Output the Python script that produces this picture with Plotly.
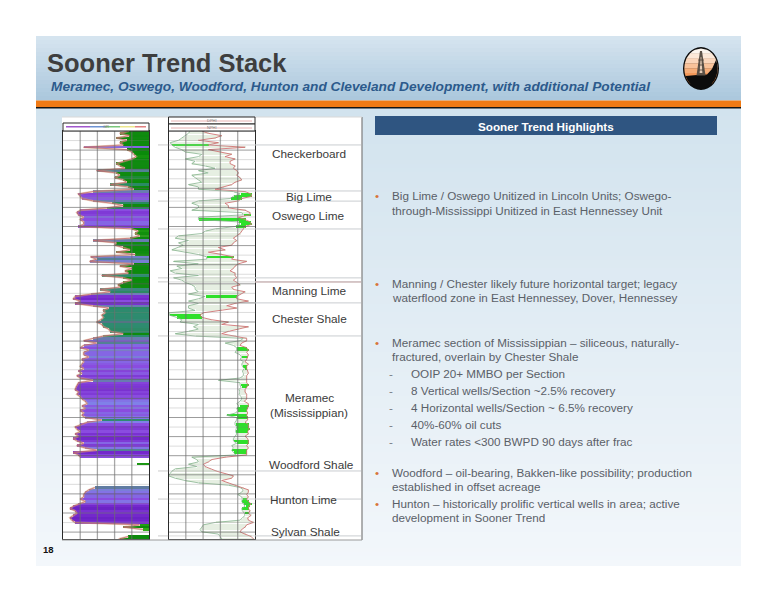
import math
import numpy as np
import plotly.graph_objects as go

W, H = 776, 600

# ---------- data ----------
SAMPLE_STEP_FT = 12.2
GRID_MAJOR_FT = list(range(0, 2200, 100))
GRID_MINOR_FT = list(range(50, 2150, 100))
GR_GRID = [20, 40, 60, 80]
RES_GRID = [62, 114, 166, 218]

GR = [77,66,77,62,74,66,70,24,74,80,82,85,80,70,62,66,72,39,62,66,60,70,74,55,76,82,35,18,20,22,35,57,70,51,20,16,18,24,20,24,24,18,80,87,84,89,78,35,62,60,70,78,62,84,32,39,
      31,82,66,80,72,76,45,70,80,70,64,66,43,55,33,14,12,20,14,35,53,47,49,45,47,44,39,45,47,53,55,70,47,35,24,39,24,20,30,24,24,30,22,24,22,20,24,18,22,16,20,35,18,16,15,14,18,16,20,22,
      26,28,22,26,20,24,22,26,45,28,20,14,16,20,14,18,12,16,24,16,26,39,12,18,20,100,100,86,100,100,100,100,100,100,100,100,100,37,30,26,24,24,20,26,18,12,8,14,16,12,8,10,14,89,70,93,100,100,76,66,62,58]

RES = [110,130,170,150,100,160,130,240,130,170,200,180,210,195,195,210,205,215,220,215,225,230,210,200,175,150,240,258,260,230,220,180,190,190,240,255,255,220,240,255,260,240,235,230,225,215,205,215,205,200,160,180,130,170,205,200,
       245,220,210,205,195,210,210,215,205,215,225,200,205,240,225,215,215,250,210,185,215,170,115,105,110,140,190,170,250,220,190,170,210,245,245,230,225,245,250,245,250,248,245,240,250,245,245,248,250,245,245,245,245,250,245,240,240,245,245,245,
       238,250,250,248,245,248,245,248,248,240,250,250,252,248,250,240,248,250,250,245,250,245,245,245,180,140,130,115,120,135,155,180,205,200,170,190,210,235,250,250,245,250,245,250,258,252,250,255,250,258,248,250,265,245,240,230,225,240,258,265,265]
NEU = [75,70,60,50,40,15,20,30,50,60,110,100,60,90,80,120,150,100,130,80,90,100,110,70,100,100,205,225,205,195,100,80,100,100,80,230,235,100,100,220,225,210,150,120,110,40,30,70,40,55,40,20,60,100,125,125,
       25,100,35,50,15,30,100,25,50,60,80,90,90,100,70,120,100,70,100,70,70,90,12,12,35,50,45,100,85,100,70,30,90,235,225,180,205,215,215,210,225,230,225,235,230,232,238,232,235,235,225,160,225,225,228,222,225,222,228,230,
       225,215,222,215,218,212,185,215,215,210,210,215,213,212,215,210,205,205,215,200,205,200,205,212,80,95,100,70,95,30,20,15,10,30,60,100,190,225,235,230,218,230,232,230,235,240,230,232,238,240,232,225,150,115,110,105,110,160,165,170,175]
PAY_TOPS_FT = [63,319,430,452,471,649,864,953,1131,1173,1225,1320,1435,1482,1529,1618,1670,1916,1995]
PAY_BASES_FT = [84,361,442,464,503,670,874,979,1157,1189,1251,1346,1471,1503,1581,1644,1686,1984,2011]

FORMATION_TOPS_FT = [73, 314, 367, 513, 769, 790, 900, 1073, 1780, 1927, 2120]
FORMATION_NAMES = ["Checkerboard", "Big Lime", "Oswego Lime", "Manning Lime", "Chester Shale",
                   "Meramec", "(Mississippian)", "Woodford Shale", "Hunton Lime", "Sylvan Shale"]
BULLETS = ["Big Lime / Oswego Unitized in Lincoln Units; Oswego-", "through-Mississippi Unitized in East Hennessey Unit",
           "Manning / Chester likely future horizontal target; legacy", "waterflood zone in East Hennessey, Dover, Hennessey",
           "Meramec section of Mississippian \u2013 siliceous, naturally-", "fractured, overlain by Chester Shale",
           "Woodford \u2013 oil-bearing, Bakken-like possibility; production", "established in offset acreage",
           "Hunton \u2013 historically prolific vertical wells in area; active", "development in Sooner Trend"]
SUB_BULLETS = ["OOIP 20+ MMBO per Section", "8 Vertical wells/Section ~2.5% recovery",
               "4 Horizontal wells/Section ~ 6.5% recovery", "40%-60% oil cuts", "Water rates <300 BWPD 90 days after frac"]

# ---------- layout helpers ----------
TR1 = (63, 149); TR2 = (168.5, 255); TOP, BOT = 131, 539
PX_PER_FT = 19.1 / 100
DEPTH_MAX = (BOT - TOP) / PX_PER_FT
def dom_x(a): return [a[0] / W, a[1] / W]
DOM_Y = [1 - BOT / H, 1 - TOP / H]
def py(ft): return TOP + ft * PX_PER_FT

fig = go.Figure()
AX0 = dict(xaxis="x", yaxis="y")

# slide background gradient
rows = np.arange(36, 567, 4)
def bg(y):
    if y < 100:
        t = (y - 36) / 64
        return [213 - 44 * t, 228 - 30 * t, 239 - 19 * t]
    t = (y - 108) / 458
    return [210 + 33 * t, 227 + 20 * t, 238 + 13 * t]
for y in rows:
    r, g, b = bg(y)
    fig.add_trace(go.Scatter(x=[36, 741, 741, 36, 36], y=[y, y, min(y + 4.5, 566), min(y + 4.5, 566), y], fill="toself", mode="none",
                             fillcolor=f"rgb({r:.0f},{g:.0f},{b:.0f})", hoverinfo="skip", **AX0))
# white log panel
fig.add_trace(go.Scatter(x=[62, 362, 362, 62, 62], y=[117, 117, 540, 540, 117], fill="toself", mode="none",
                         fillcolor="white", hoverinfo="skip", **AX0))

depth = np.arange(len(GR)) * SAMPLE_STEP_FT
GR_SCALE = [[0, "#5a18b8"], [0.12, "#7428cc"], [0.2, "#8a4ce0"], [0.28, "#8080e8"], [0.36, "#667aa8"],
            [0.45, "#2e8b70"], [0.58, "#2a8a60"], [0.62, "#108a10"], [0.82, "#0a8a0a"], [1, "#48c020"]]
fig.add_trace(go.Bar(y=depth, x=[100 - v for v in GR], base=GR, orientation="h", width=SAMPLE_STEP_FT,
                     marker=dict(color=GR, colorscale=GR_SCALE, cmin=0, cmax=100, line_width=0),
                     xaxis="x2", yaxis="y2", hoverinfo="skip"))
gr_plot = [v if v < 100 else None for v in GR]
fig.add_trace(go.Scatter(x=gr_plot, y=depth, mode="lines", line=dict(color="rgba(214,170,130,0.55)", width=2),
                         xaxis="x2", yaxis="y2", hoverinfo="skip"))
fig.add_trace(go.Scatter(x=gr_plot, y=depth, mode="lines", line=dict(color="#c0606a", width=0.7),
                         xaxis="x2", yaxis="y2", hoverinfo="skip"))

n2 = min(len(RES), len(NEU))
d2 = np.arange(n2) * SAMPLE_STEP_FT
is_pay = [any(t <= d <= b for t, b in zip(PAY_TOPS_FT, PAY_BASES_FT)) for d in d2]
lo = [min(a, b) for a, b in zip(RES, NEU)]
wd = [abs(a - b) for a, b in zip(RES, NEU)]
pale = [i for i in range(n2) if not is_pay[i]]
gold = [i for i in range(n2) if is_pay[i]]
fig.add_trace(go.Bar(y=d2[pale], x=[wd[i] for i in pale], base=[lo[i] for i in pale], orientation="h",
                     width=SAMPLE_STEP_FT * 0.45, marker=dict(color="#e6efe2", line_width=0),
                     xaxis="x3", yaxis="y3", hoverinfo="skip"))
fig.add_trace(go.Scatter(x=NEU, y=d2, mode="lines", line=dict(color="#86b48e", width=0.8),
                         xaxis="x3", yaxis="y3", hoverinfo="skip"))
fig.add_trace(go.Scatter(x=RES, y=d2, mode="lines", line=dict(color="#cf7474", width=0.9),
                         xaxis="x3", yaxis="y3", hoverinfo="skip"))
fig.add_trace(go.Bar(y=d2[gold], x=[wd[i] for i in gold], base=[lo[i] for i in gold], orientation="h",
                     width=SAMPLE_STEP_FT, marker=dict(color="#2ee02a", line_width=0),
                     xaxis="x3", yaxis="y3", hoverinfo="skip"))

# grid drawn over the fills
def hgrid(levels, xr, color, width, ax):
    xs, ys = [], []
    for d in levels:
        xs += [xr[0], xr[1], None]; ys += [d, d, None]
    fig.add_trace(go.Scatter(x=xs, y=ys, mode="lines", line=dict(color=color, width=width),
                             xaxis=ax[0], yaxis=ax[1], hoverinfo="skip"))
def vgrid(levels, color, width, ax):
    xs, ys = [], []
    for v in levels:
        xs += [v, v, None]; ys += [0, DEPTH_MAX, None]
    fig.add_trace(go.Scatter(x=xs, y=ys, mode="lines", line=dict(color=color, width=width),
                             xaxis=ax[0], yaxis=ax[1], hoverinfo="skip"))
for ax, xr, vl in [(("x2", "y2"), (0, 100), GR_GRID), (("x3", "y3"), (10, 270), RES_GRID)]:
    hgrid(GRID_MINOR_FT, xr, "rgba(130,130,130,0.28)", 1, ax)
    hgrid(GRID_MAJOR_FT, xr, "rgba(90,90,90,0.6)", 1, ax)
    vgrid(vl, "rgba(110,110,110,0.6)", 1.3, ax)

axis_off = dict(showgrid=False, zeroline=False, showticklabels=False, ticks="", showline=False)
frame = dict(showgrid=False, zeroline=False, showticklabels=False, ticks="", showline=True, mirror=True,
             linecolor="#2a2a2a", linewidth=1.4)
fig.update_layout(
    width=W, height=H, margin=dict(l=0, r=0, t=0, b=0), paper_bgcolor="white", plot_bgcolor="rgba(0,0,0,0)",
    showlegend=False, barmode="overlay", bargap=0,
    xaxis=dict(domain=[0, 1], range=[0, W], **axis_off),
    yaxis=dict(domain=[0, 1], range=[H, 0], **axis_off),
    xaxis2=dict(domain=dom_x(TR1), range=[0, 100], anchor="y2", **frame),
    yaxis2=dict(domain=DOM_Y, range=[DEPTH_MAX, 0], anchor="x2", **frame),
    xaxis3=dict(domain=dom_x(TR2), range=[10, 270], anchor="y3", **frame),
    yaxis3=dict(domain=DOM_Y, range=[DEPTH_MAX, 0], anchor="x3", **frame),
)

shapes = []
def rect(x0, y0, x1, y1, fill, line=None, lw=0):
    shapes.append(dict(type="rect", xref="x", yref="y", x0=x0, y0=y0, x1=x1, y1=y1, fillcolor=fill,
                       line=dict(color=line or fill, width=lw), layer="above"))
def seg(x0, y0, x1, y1, color, width=1):
    shapes.append(dict(type="line", xref="x", yref="y", x0=x0, y0=y0, x1=x1, y1=y1,
                       line=dict(color=color, width=width), layer="above"))

rect(36, 100.5, 741, 107, "#f07a14")
rect(36, 107, 741, 108.6, "#141414")
rect(375, 116, 717, 135, "#2f5581")
# panel edges
seg(362, 117, 362, 540, "#7c7c7c", 1.2)
seg(62, 540, 362, 540, "#9a9a9a", 1)
seg(62, 117, 362, 117, "#d8d8d8", 1)
# formation tops
for ft in FORMATION_TOPS_FT:
    seg(158, py(ft), 168, py(ft), "rgba(170,170,170,0.6)", 1)
    seg(168.5, py(ft), 255, py(ft), "rgba(175,175,175,0.35)", 1.4)
    seg(255, py(ft), 361, py(ft), "#c9cdd0", 1)
seg(255, 282, 361, 282, "#c9a9a9", 1)
# track headers
for x0, x1, y0, y1 in [(63, 149, 123, 131), (168.5, 255, 117, 124), (168.5, 255, 124, 131)]:
    rect(x0, y0, x1, y1, "white", "#2a2a2a", 1)
for (a, b, c) in [(66, 90, "#8a2ec0"), (90, 105, "#4a78c8"), (105, 120, "#58b858"), (120, 135, "#e8e070"), (135, 146, "#d86060")]:
    seg(a, 126.8, b, 126.8, c, 1.2)
seg(171, 121, 252, 121, "#e8b0b0", 1)
seg(171, 128, 252, 128, "#e8b0b0", 1)

# logo
cx, cy, rx, ry = 701, 68.5, 18, 21.5
irx, iry = rx - 1.4, ry - 1.4
def ell_x(y):
    return irx * math.sqrt(max(0.0, 1 - ((y - cy) / iry) ** 2))
shapes.append(dict(type="circle", xref="x", yref="y", x0=cx - rx, x1=cx + rx, y0=cy - ry, y1=cy + ry,
                   fillcolor="#0c0c0c", line=dict(width=0), layer="above"))
BANDS = ["#fbf5ee", "#fbe8d8", "#fad6bb", "#f8c29a", "#f6ad78", "#f4995a", "#f18a44"]
span = iry * 2 * 0.86
for i, col in enumerate(BANDS):
    ya = cy - iry + i * span / len(BANDS)
    yb = ya + span / len(BANDS) + 0.4
    pts = [(cx - ell_x(y), y) for y in np.linspace(ya, yb, 5)] + [(cx + ell_x(y), y) for y in np.linspace(yb, ya, 5)]
    shapes.append(dict(type="path", xref="x", yref="y", layer="above", fillcolor=col, line=dict(width=0),
                       path="M" + " L".join(f"{a:.1f},{b:.1f}" for a, b in pts) + " Z"))
# black hill, clipped to the ellipse outline
hill = [(cx - ell_x(76), 76), (697, 75), (707, 74.5), (712, 69), (cx + ell_x(60), 60)]
hill += [(cx + ell_x(y), y) for y in np.linspace(60, 88, 8)] + [(cx - ell_x(y), y) for y in np.linspace(88, 76, 6)]
shapes.append(dict(type="path", xref="x", yref="y", layer="above", fillcolor="#0c0c0c", line=dict(width=0),
                   path="M" + " L".join(f"{a:.1f},{b:.1f}" for a, b in hill) + " Z"))
shapes.append(dict(type="path", xref="x", yref="y", layer="above", fillcolor="#5c5248", line=dict(width=0),
                   path="M700,51 L702,51 L705.5,75.5 L696.5,75.5 Z"))
shapes.append(dict(type="path", xref="x", yref="y", layer="above", fillcolor="#e6cdb8", line=dict(width=0),
                   path="M700.7,57 L701.3,57 L702.4,73 L699.6,73 Z"))
for yy in [60, 65, 70]:
    seg(698.2, yy, 703.8, yy, "#4a4038", 0.8)
fig.update_layout(shapes=shapes)

ann = []
def text(x, y, s, size, color="#5a6068", anchor="left", family="Liberation Sans"):
    ann.append(dict(x=x, y=y, xref="x", yref="y", text=s, showarrow=False, xanchor=anchor, yanchor="middle",
                    borderpad=0, borderwidth=0, font=dict(family=family, size=size, color=color), align=anchor))

text(47, 62.5, "<b>Sooner Trend Stack</b>", 25.5, "#3e3e3e")
text(51, 86, "<b><i>Meramec, Oswego, Woodford, Hunton and Cleveland Development, with additional Potential</i></b>", 13.7, "#2c5a8c")
text(546, 126, "<b>Sooner Trend Highlights</b>", 11.7, "white", "center")
text(42.5, 549.5, "<b>18</b>", 9.5, "#111111")
text(106, 126.5, "GR", 4, "#777777", "center")
text(212, 120, "DPHI", 4, "#777777", "center")
text(212, 127, "NPHI", 4, "#777777", "center")

NAME_POS = [(309, 154), (309, 197), (308, 216), (309, 291), (309, 319), (309, 398), (309, 413), (311, 465), (303, 500), (305, 532)]
for (x, y), s in zip(NAME_POS, FORMATION_NAMES):
    text(x, y, s, 11.8, "#3a3a3a", "center")

BY = [195.7, 210, 283, 297, 342.7, 356.7, 472.7, 486.7, 503.7, 517.7]
for i, (y, s) in enumerate(zip(BY, BULLETS)):
    text(392, y, s, 11.7)
    if i % 2 == 0:
        text(375, y, "\u2022", 11.7, "#d8743a")
SY = [373.3, 390.7, 407.7, 424.7, 441.7]
for y, s in zip(SY, SUB_BULLETS):
    text(388.5, y, "-", 11.7, "#7a7f86")
    text(410.5, y, s, 11.7)
fig.update_layout(annotations=ann)

fig.write_html("out.html", config={"displayModeBar": False},
               post_script="document.body.style.margin='0';document.documentElement.style.overflow='hidden';")
